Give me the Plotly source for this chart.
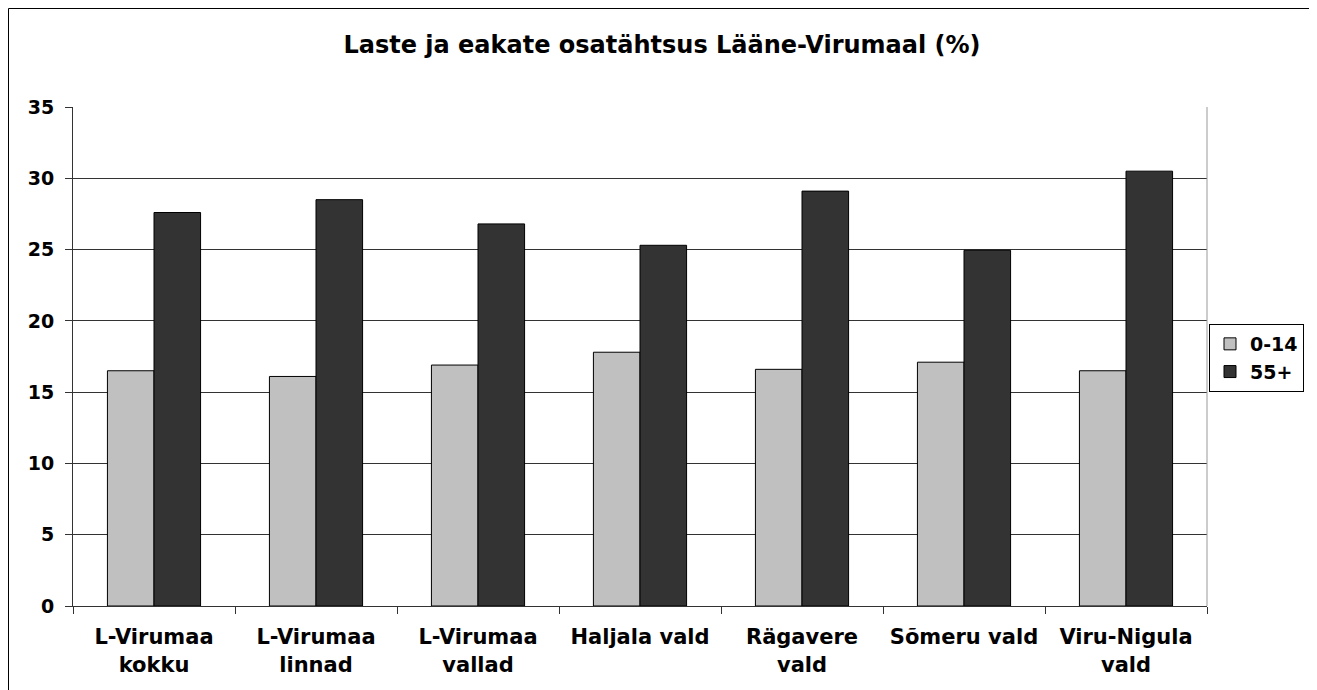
import plotly.graph_objects as go

categories = ["L-Virumaa<br>kokku", "L-Virumaa<br>linnad", "L-Virumaa<br>vallad",
              "Haljala vald", "Rägavere<br>vald", "Sõmeru vald", "Viru-Nigula<br>vald"]
children_0_14 = [16.5, 16.1, 16.9, 17.8, 16.6, 17.1, 16.5]
elderly_55 = [27.6, 28.5, 26.8, 25.3, 29.1, 24.95, 30.5]
y_ticks = [0, 5, 10, 15, 20, 25, 30, 35]

FONT = "DejaVu Sans, sans-serif"

fig = go.Figure()
fig.add_trace(go.Bar(x=categories, y=children_0_14, name="0-14",
                     marker=dict(color="#C0C0C0", line=dict(color="#000000", width=1))))
fig.add_trace(go.Bar(x=categories, y=elderly_55, name="55+",
                     marker=dict(color="#333333", line=dict(color="#000000", width=1))))

# page body has an 8px margin; figure coords = screen coords - 8
OFF = 8
W, H = 1317 - OFF, 690 - OFF
L, R, T, B = 73 - OFF, 1207 - OFF, 107 - OFF, 606 - OFF
pw, ph = R - L, B - T


def px(x):
    return (x - OFF - L) / pw


def py(y):
    return (B - (y - OFF)) / ph


fig.update_layout(
    width=W, height=H,
    margin=dict(l=L, r=W - R, t=T, b=H - B, autoexpand=False),
    paper_bgcolor="white", plot_bgcolor="white",
    barmode="group", bargap=0.425, bargroupgap=0,
    font=dict(family=FONT, color="#000000", size=20, weight="bold"),
    title=dict(text="Laste ja eakate osatähtsus Lääne-Virumaal (%)",
               x=(662 - OFF) / W, xanchor="center", y=1 - (45 - OFF) / H, yanchor="middle",
               font=dict(size=24, family=FONT, color="#000000", weight="bold")),
    showlegend=True,
    legend=dict(x=px(1209), y=py(324), xanchor="left", yanchor="top",
                bordercolor="#000000", borderwidth=1, bgcolor="white",
                font=dict(size=19, family=FONT, color="#000000", weight="bold"),
                itemwidth=30, tracegroupgap=0),
    xaxis=dict(type="category", showline=True, linecolor="#333333", linewidth=1,
               ticks="outside", tickson="boundaries", ticklen=7, tickcolor="#333333",
               ticklabelstandoff=12,
               tickfont=dict(size=21, family=FONT, color="#000000", weight="bold"),
               showgrid=False),
    yaxis=dict(range=[0, 35], tickvals=y_ticks, showline=True, linecolor="#333333",
               linewidth=1, ticks="outside", ticklen=7, tickcolor="#333333",
               ticklabelstandoff=7,
               showgrid=True, gridcolor="#333333", gridwidth=1,
               tickfont=dict(size=19, family=FONT, color="#000000", weight="bold"),
               zeroline=False),
    shapes=[
        dict(type="rect", xref="paper", yref="paper",
             x0=px(8.5), x1=px(1310), y0=py(720), y1=py(8.5),
             line=dict(color="#000000", width=1), fillcolor="rgba(0,0,0,0)", layer="below"),
        dict(type="line", xref="paper", yref="paper", x0=1, x1=1, y0=0, y1=1,
             line=dict(color="#999999", width=1)),
    ],
)

fig.write_html("out.html")
